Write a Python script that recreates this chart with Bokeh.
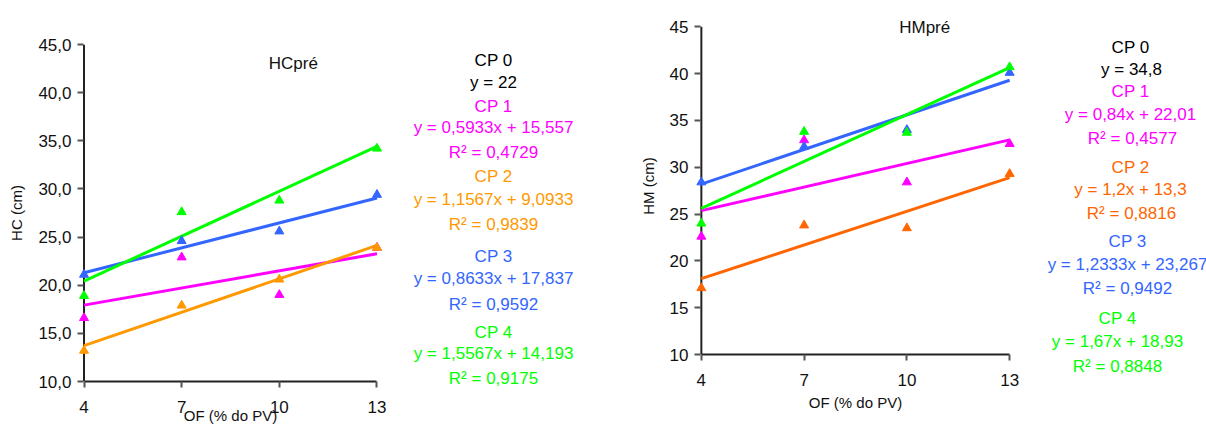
from bokeh.plotting import figure
from bokeh.layouts import row
from bokeh.models import Range1d, Label, FixedTicker
from bokeh.core.properties import value
from bokeh.embed import file_html
from bokeh.resources import INLINE

# ---------------- data ----------------
of_levels = [4, 7, 10, 13]
series_names = ["CP 1", "CP 2", "CP 3", "CP 4"]

# Left chart: HC pre
hc_cp1 = [16.6, 22.9, 19.0, 23.9]
hc_cp2 = [13.2, 17.9, 20.6, 23.9]
hc_cp3 = [21.1, 24.6, 25.6, 29.4]
hc_cp4 = [18.9, 27.6, 28.8, 34.2]
hc_slopes = [0.5933, 1.1567, 0.8633, 1.5567]
hc_intercepts = [15.557, 9.0933, 17.837, 14.193]
hc_eq_text = ["y = 0,5933x + 15,557", "y = 1,1567x + 9,0933",
              "y = 0,8633x + 17,837", "y = 1,5567x + 14,193"]
hc_r2_text = ["R² = 0,4729", "R² = 0,9839", "R² = 0,9592", "R² = 0,9175"]
hc_cp0_text = "y = 22"
hc_yticks = [10, 15, 20, 25, 30, 35, 40, 45]
hc_ytick_labels = ["10,0", "15,0", "20,0", "25,0", "30,0", "35,0", "40,0", "45,0"]

# Right chart: HM pre
hm_cp1 = [22.6, 32.9, 28.4, 32.5]
hm_cp2 = [17.1, 23.8, 23.5, 29.3]
hm_cp3 = [28.4, 32.2, 34.0, 40.1]
hm_cp4 = [24.0, 33.8, 33.7, 40.7]
hm_slopes = [0.84, 1.2, 1.2333, 1.67]
hm_intercepts = [22.01, 13.3, 23.267, 18.93]
hm_eq_text = ["y = 0,84x + 22,01", "y = 1,2x + 13,3",
              "y = 1,2333x + 23,267", "y = 1,67x + 18,93"]
hm_r2_text = ["R² = 0,4577", "R² = 0,8816", "R² = 0,9492", "R² = 0,8848"]
hm_cp0_text = "y = 34,8"
hm_yticks = [10, 15, 20, 25, 30, 35, 40, 45]
hm_ytick_labels = ["10", "15", "20", "25", "30", "35", "40", "45"]

FONT = "Liberation Sans"
colors_left = ["#FF00FF", "#FF9900", "#3366FF", "#00FF00"]
colors_right = ["#FF00FF", "#FF6600", "#3366FF", "#00FF00"]
X_PAD = 0.2


def make_chart(width, mb_left, mb_right, mb_top, mb_bottom, y_pad_top, series, slopes,
               intercepts, colors, yticks, ylabels, ytitle, title, title_xy,
               xlabel_standoff, ylabel_standoff):
    p = figure(width=width, height=426, output_backend="svg", toolbar_location=None,
               x_range=Range1d(of_levels[0] - X_PAD, of_levels[-1] + X_PAD),
               y_range=Range1d(yticks[0], yticks[-1] + y_pad_top),
               min_border_left=mb_left, min_border_right=mb_right,
               min_border_top=mb_top, min_border_bottom=mb_bottom)
    p.frame_align = False
    p.outline_line_color = None
    p.grid.visible = False
    p.background_fill_color = "white"
    p.border_fill_color = "white"

    # vertical axis line at the first OF level
    p.segment(x0=[of_levels[0]], y0=[yticks[0]], x1=[of_levels[0]], y1=[yticks[-1]],
              line_color="#222222", line_width=2)

    for ys, m, b, c in zip(series, slopes, intercepts, colors):
        xs_fit = [of_levels[0], of_levels[-1]]
        ys_fit = [m * x + b for x in xs_fit]
        p.line(xs_fit, ys_fit, line_color=c, line_width=3)
    for ys, c in zip(series, colors):
        p.scatter(of_levels, ys, marker="triangle", size=9, fill_color=c, line_color=c)

    # axes
    p.xaxis.ticker = FixedTicker(ticks=of_levels)
    p.yaxis.ticker = FixedTicker(ticks=yticks)
    p.yaxis.major_label_overrides = {t: l for t, l in zip(yticks, ylabels)}
    p.xaxis.bounds = (of_levels[0], of_levels[-1])
    p.yaxis.bounds = (yticks[0], yticks[-1])
    for ax in (p.xaxis[0], p.yaxis[0]):
        ax.axis_line_color = "#222222"
        ax.axis_line_width = 2
        ax.major_tick_line_color = "#555555"
        ax.major_tick_line_width = 2
        ax.minor_tick_line_color = None
        ax.major_label_text_font = FONT
        ax.major_label_text_font_size = "17px"
        ax.major_label_text_color = "#111111"
        ax.axis_label_text_font = FONT
        ax.axis_label_text_font_size = "15px"
        ax.axis_label_text_font_style = "normal"
        ax.axis_label_text_color = "#111111"
    p.xaxis.major_tick_in = 0
    p.xaxis.major_tick_out = 6
    # y axis drawn at the frame edge; its ticks reach in to the data axis line
    p.yaxis.axis_line_color = None
    p.yaxis.major_tick_in = 6
    p.yaxis.major_tick_out = 0
    p.xaxis.axis_label = "OF (% do PV)"
    p.xaxis.major_label_standoff = 13
    p.xaxis.axis_label_standoff = xlabel_standoff
    p.yaxis.axis_label = ytitle
    p.yaxis.major_label_standoff = 6
    p.yaxis.axis_label_standoff = ylabel_standoff

    p.add_layout(Label(x=title_xy[0], y=title_xy[1], text=title, text_font=FONT,
                       text_font_size="17px", text_align="center", text_baseline="middle",
                       text_color="#111111"))
    return p


def make_legend(width, cp0_text, eq_text, r2_text, colors, positions):
    p = figure(width=width, height=426, output_backend="svg", toolbar_location=None,
               x_range=Range1d(0, width), y_range=Range1d(426, 0),
               min_border=0)
    p.frame_align = False
    p.axis.visible = False
    p.grid.visible = False
    p.outline_line_color = None
    texts = ["CP 0", cp0_text]
    cols = ["#000000", "#000000"]
    for name, eq, r2, c in zip(series_names, eq_text, r2_text, colors):
        texts += [name, eq, r2]
        cols += [c, c, c]
    xs = [pos[0] for pos in positions]
    ys = [pos[1] for pos in positions]
    p.text(x=xs, y=ys, text=texts, text_color=cols, text_font=value(FONT),
           text_font_size="17px", text_align="center", text_baseline="middle")
    return p


left = make_chart(400, 77, 17, 44, 44, 0, [hc_cp1, hc_cp2, hc_cp3, hc_cp4], hc_slopes,
                  hc_intercepts, colors_left, hc_yticks, hc_ytick_labels, "HC (cm)",
                  "HCpré", (10.43, 43.0), -9, 10)
left_leg = make_legend(235, hc_cp0_text, hc_eq_text, hc_r2_text, colors_left,
                       [(93, 60), (93, 82), (93, 106), (93, 127), (93, 152),
                        (93, 176), (93, 199), (93, 224), (93, 256), (93, 278),
                        (93, 304), (93, 332), (93, 353), (93, 378)])
right = make_chart(405, 59, 24, 17, 72, 1, [hm_cp1, hm_cp2, hm_cp3, hm_cp4], hm_slopes,
                   hm_intercepts, colors_right, hm_yticks, hm_ytick_labels, "HM (cm)",
                   "HMpré", (10.52, 44.9), 5, 10)
right_leg = make_legend(166, hm_cp0_text, hm_eq_text, hm_r2_text, colors_right,
                        [(90, 47), (91, 69), (90, 91), (90, 114), (92, 138),
                         (90, 167), (90, 189), (91, 213), (87, 241), (87, 264),
                         (87, 288), (77, 318), (77, 341), (77, 366)])

layout = row(left, left_leg, right, right_leg)
open("out.html", "w").write(file_html(layout, INLINE))
